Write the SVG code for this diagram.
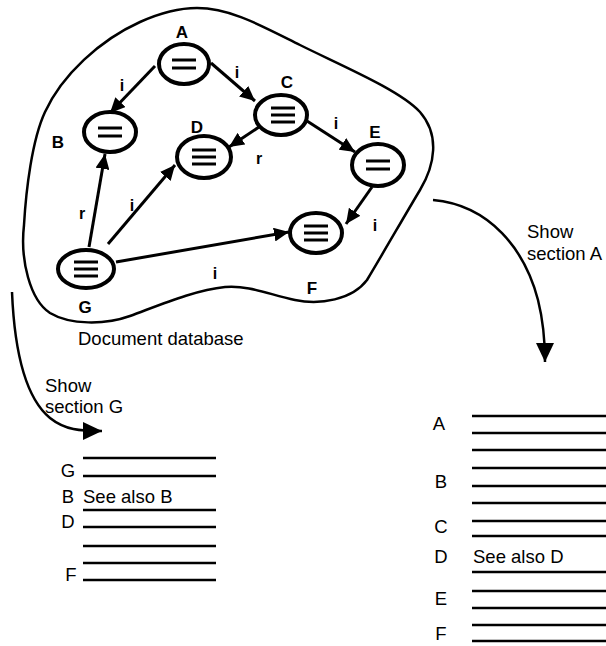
<svg xmlns="http://www.w3.org/2000/svg" width="606" height="646" viewBox="0 0 606 646">
<defs>
<marker id="ah" markerUnits="userSpaceOnUse" markerWidth="16" markerHeight="14" refX="15" refY="7" orient="auto">
<path d="M0,0 L15,7 L0,14 Z" fill="#000"/>
</marker>
<marker id="ah2" markerUnits="userSpaceOnUse" markerWidth="20" markerHeight="18" refX="19" refY="9" orient="auto">
<path d="M0,0 L19,9 L0,18 Z" fill="#000"/>
</marker>
<g id="bars2" stroke="#000" stroke-width="3"><line x1="-12" y1="-4" x2="12" y2="-4"/><line x1="-12" y1="4" x2="12" y2="4"/></g>
<g id="bars3" stroke="#000" stroke-width="3"><line x1="-12" y1="-7" x2="12" y2="-7"/><line x1="-12" y1="0" x2="12" y2="0"/><line x1="-12" y1="7" x2="12" y2="7"/></g>
</defs>
<style>
.doc{fill:#fff;stroke:#000;stroke-width:4}
.lbl{font-family:"Liberation Sans",Arial,sans-serif;font-weight:bold;font-size:17px;fill:#000;text-anchor:middle}
.elbl{font-family:"Liberation Sans",Arial,sans-serif;font-weight:bold;font-size:16px;fill:#000;text-anchor:middle}
.txt{font-family:"Liberation Sans",Arial,sans-serif;font-size:18.5px;fill:#000}
.edge{stroke:#000;stroke-width:3;fill:none;marker-end:url(#ah)}
.flow{stroke:#000;stroke-width:2.5;fill:none;marker-end:url(#ah2)}
.rule{stroke:#000;stroke-width:2.5}
.blob{fill:none;stroke:#000;stroke-width:2.5}
</style>
<rect width="606" height="646" fill="#fff"/>
<path class="blob" d="M197,8 C230,8 260,25 300,45 C340,65 400,90 420,112 C440,135 435,165 420,190 C405,215 385,250 367,280 C352,300 320,305 295,300 C270,295 250,285 225,287 C195,290 160,305 130,316 C105,325 70,325 50,313 C30,300 20,260 24,225 C26,190 32,140 45,112 C62,75 100,40 140,22 C160,13 180,8 197,8 Z"/>
<g id="connectors">
<line class="edge" x1="155" y1="66" x2="110" y2="113"/>
<line class="edge" x1="211" y1="63" x2="255" y2="101"/>
<line class="edge" x1="259" y1="127" x2="229" y2="147"/>
<line class="edge" x1="307" y1="121" x2="355" y2="152"/>
<line class="edge" x1="372" y1="187" x2="346" y2="224"/>
<line class="edge" x1="89" y1="247" x2="105" y2="154"/>
<line class="edge" x1="108" y1="244" x2="175" y2="165"/>
<line class="edge" x1="116" y1="262" x2="289" y2="232"/>
<path class="flow" d="M12,292 C14,340 22,395 50,418 C65,430 80,431 102,431"/>
<path class="flow" d="M433,200 C490,205 525,250 538,300 C543,320 545,340 545,362"/>
<text class="elbl" x="122" y="91">i</text>
<text class="elbl" x="237" y="78">i</text>
<text class="elbl" x="259" y="164">r</text>
<text class="elbl" x="336" y="129">i</text>
<text class="elbl" x="375" y="231">i</text>
<text class="elbl" x="82" y="219">r</text>
<text class="elbl" x="132" y="211">i</text>
<text class="elbl" x="215" y="279">i</text>
</g>
<g id="A"><ellipse class="doc" cx="184" cy="64" rx="25" ry="20"/><use href="#bars2" x="184" y="64"/><text class="lbl" x="182" y="38">A</text></g>
<g id="B"><ellipse class="doc" cx="110" cy="132" rx="26" ry="20"/><use href="#bars2" x="110" y="132"/><text class="lbl" x="58" y="148">B</text></g>
<g id="C"><ellipse class="doc" cx="281" cy="115" rx="26" ry="20"/><use href="#bars3" x="283" y="115"/><text class="lbl" x="287" y="88">C</text></g>
<g id="D"><ellipse class="doc" cx="204" cy="157" rx="27" ry="21"/><use href="#bars3" x="204" y="157"/><text class="lbl" x="197" y="133">D</text></g>
<g id="E"><ellipse class="doc" cx="378" cy="165" rx="26" ry="21"/><use href="#bars2" x="378" y="165"/><text class="lbl" x="375" y="138">E</text></g>
<g id="F"><ellipse class="doc" cx="316" cy="233" rx="26" ry="20"/><use href="#bars3" x="316" y="233"/><text class="lbl" x="312" y="294">F</text></g>
<g id="G"><ellipse class="doc" cx="86" cy="269" rx="28" ry="19"/><use href="#bars3" x="86" y="269"/><text class="lbl" x="85" y="313">G</text></g>
<text class="txt" x="78" y="345">Document database</text>
<text class="txt" x="45" y="392">Show</text>
<text class="txt" x="45" y="413">section G</text>
<text class="txt" x="527" y="238">Show</text>
<text class="txt" x="527" y="260">section A</text>
<g id="sectionG">
<line class="rule" x1="83" y1="458" x2="216" y2="458"/>
<line class="rule" x1="83" y1="476" x2="216" y2="476"/>
<line class="rule" x1="83" y1="510" x2="216" y2="510"/>
<line class="rule" x1="83" y1="527" x2="216" y2="527"/>
<line class="rule" x1="83" y1="546" x2="216" y2="546"/>
<line class="rule" x1="83" y1="563" x2="216" y2="563"/>
<line class="rule" x1="83" y1="580" x2="216" y2="580"/>
<text class="txt" x="68" y="477" text-anchor="middle">G</text>
<text class="txt" x="68" y="503" text-anchor="middle">B</text>
<text class="txt" x="83" y="503">See also B</text>
<text class="txt" x="68" y="528" text-anchor="middle">D</text>
<text class="txt" x="71" y="581" text-anchor="middle">F</text>
</g>
<g id="sectionA">
<line class="rule" x1="472" y1="416" x2="606" y2="416"/>
<line class="rule" x1="472" y1="433" x2="606" y2="433"/>
<line class="rule" x1="472" y1="450" x2="606" y2="450"/>
<line class="rule" x1="472" y1="468" x2="606" y2="468"/>
<line class="rule" x1="472" y1="486" x2="606" y2="486"/>
<line class="rule" x1="472" y1="503" x2="606" y2="503"/>
<line class="rule" x1="472" y1="521" x2="606" y2="521"/>
<line class="rule" x1="472" y1="536" x2="606" y2="536"/>
<line class="rule" x1="472" y1="572" x2="606" y2="572"/>
<line class="rule" x1="472" y1="591" x2="606" y2="591"/>
<line class="rule" x1="472" y1="608" x2="606" y2="608"/>
<line class="rule" x1="472" y1="625" x2="606" y2="625"/>
<line class="rule" x1="472" y1="641" x2="606" y2="641"/>
<text class="txt" x="439" y="430" text-anchor="middle">A</text>
<text class="txt" x="441" y="488" text-anchor="middle">B</text>
<text class="txt" x="441" y="533" text-anchor="middle">C</text>
<text class="txt" x="441" y="563" text-anchor="middle">D</text>
<text class="txt" x="473" y="563">See also D</text>
<text class="txt" x="441" y="605" text-anchor="middle">E</text>
<text class="txt" x="441" y="640" text-anchor="middle">F</text>
</g>
</svg>
